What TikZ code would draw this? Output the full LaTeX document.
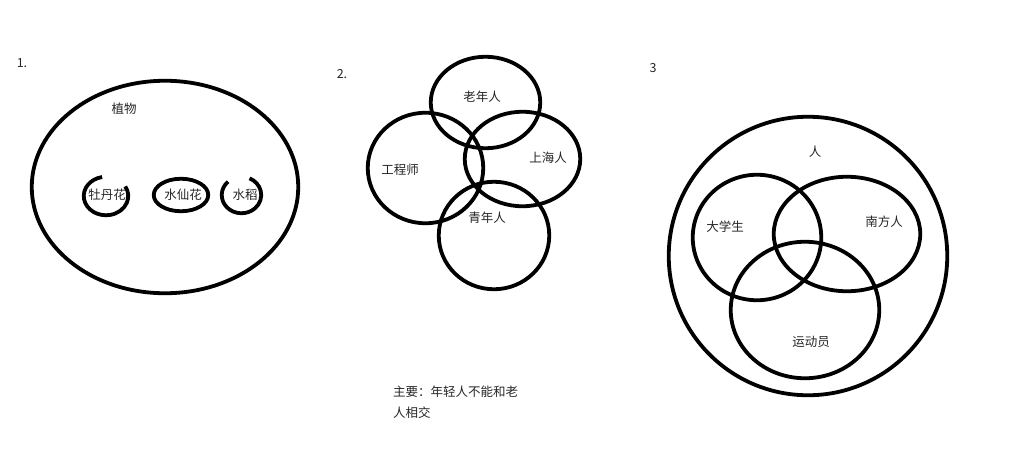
\documentclass[tikz,border=0pt]{standalone}
\usepackage{fontspec}
\newfontfamily\cjk{Noto Sans CJK SC}
\usetikzlibrary{shapes.geometric}
\tikzset{
  ring/.style={draw=black, line width=3.8pt, ellipse, inner sep=0pt},
  arcline/.style={draw=black, line width=3.8pt},
  lbl/.style={font=\cjk\fontsize{12.5}{14}\selectfont, text=black!85, inner sep=0pt},
  num/.style={font=\cjk\fontsize{12.5}{14}\selectfont, text=black!85, inner sep=0pt},
}
\begin{document}
\begin{tikzpicture}[x=1pt,y=-1pt]
\useasboundingbox[fill=white] (0,0) rectangle (1012,458);
% numbers
\node[num] (n1) at (22,63) {1.};
\node[num] (n2) at (342,74) {2.};
\node[num] (n3) at (653,68) {3};
% diagram 1
\node[ring, minimum width=266.5pt, minimum height=212.5pt] (plant) at (165,187) {};
\node[ring, minimum width=54.5pt, minimum height=32.5pt] (narc) at (181,195) {};
\coordinate (peony) at (106,196);
\coordinate (rice) at (241.5,195);
\draw[arcline] ([shift={(100:22.25pt and 19.25pt)}]peony) arc[start angle=100, end angle=390, x radius=22.25pt, y radius=19.25pt];
\draw[arcline] ([shift={(133:19.75pt and 18.25pt)}]rice) arc[start angle=133, end angle=426, x radius=19.75pt, y radius=18.25pt];
\node[lbl] (tplant) at (124,109) {植物};
\node[lbl] (tpeony) at (107,195) {牡丹花};
\node[lbl] (tnarc) at (183,195) {水仙花};
\node[lbl] (trice) at (245,195) {水稻};
% diagram 2
\node[ring, minimum width=109.5pt, minimum height=91.5pt] (old) at (485.5,102.5) {};
\node[ring, minimum width=115.5pt, minimum height=110.5pt] (eng) at (425.5,168) {};
\node[ring, minimum width=115.5pt, minimum height=94.5pt] (sh) at (522.5,159) {};
\node[ring, minimum width=110.5pt, minimum height=107.5pt] (young) at (494,235.5) {};
\node[lbl] (told) at (482,97) {老年人};
\node[lbl] (tsh) at (548,158) {上海人};
\node[lbl] (teng) at (400,170) {工程师};
\node[lbl] (tyoung) at (487,218) {青年人};
\node[lbl, anchor=west] (note1) at (393,392) {主要：年轻人不能和老};
\node[lbl, anchor=west] (note2) at (393,413) {人相交};
% diagram 3
\node[ring, minimum width=278.5pt, minimum height=278.5pt] (people) at (808,256) {};
\node[ring, minimum width=128.5pt, minimum height=125.5pt] (stu) at (757,237.5) {};
\node[ring, minimum width=146.5pt, minimum height=114.5pt] (south) at (847,234) {};
\node[ring, minimum width=148.5pt, minimum height=136.5pt] (ath) at (805,310) {};
\node[lbl] (tpeople) at (815,152) {人};
\node[lbl] (tstu) at (725,227) {大学生};
\node[lbl] (tsouth) at (884,222) {南方人};
\node[lbl] (tath) at (811,342) {运动员};
\end{tikzpicture}
\end{document}
